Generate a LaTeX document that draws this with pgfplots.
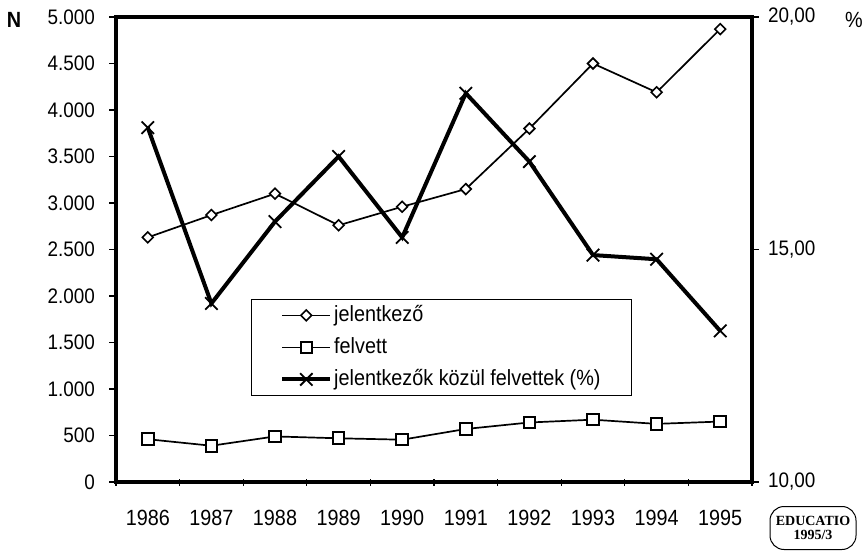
\documentclass[border=0pt]{standalone}
\usepackage{fontspec}
\setmainfont{Liberation Sans}[FakeStretch=0.9]
\newfontfamily\stampfont{Liberation Serif}
\usepackage{pgfplots}
\pgfplotsset{compat=1.18}

\pgfplotstableread{
idx jel fel pct
0 2630 460 17.62
1 2870 390 13.84
2 3100 490 15.60
3 2760 470 17.00
4 2960 455 15.26
5 3150 570 18.36
6 3800 640 16.89
7 4500 670 14.88
8 4190 625 14.79
9 4870 650 13.25
}\datatable

\begin{document}
\begin{tikzpicture}[font=\fontsize{11}{13}\selectfont]
\path[use as bounding box] (-58pt,-34.5pt) rectangle (375pt,241pt);
\pgfplotsset{
  myaxis/.style={
    scale only axis, width=318pt, height=232.5pt,
    at={(0,0)}, anchor=south west,
    xmin=-0.5, xmax=9.5,
    axis line style={line width=2pt},
    tick align=outside,
    major tick length=3.5pt,
    tick style={black, line width=0.6pt},
    /pgf/number format/assume math mode=true,
    clip=false,
  },
  legend image code/.code={
    \draw[mark repeat=2,mark phase=2] plot coordinates {(0cm,0cm) (0.42cm,0cm) (0.84cm,0cm)};
  },
}
\begin{axis}[myaxis,
  ymin=0, ymax=5000,
  tick pos=left,
  xtick={-0.5,0.5,...,9.5},
  xticklabels={1986,1987,1988,1989,1990,1991,1992,1993,1994,1995,{}},
  xticklabel style={xshift=15.9pt, yshift=-7pt},
  xtick style={yshift=1.75pt},
  ytick={0,500,...,5000},
  yticklabels={0,500,{1.000},{1.500},{2.000},{2.500},{3.000},{3.500},{4.000},{4.500},{5.000}},
  yticklabel style={xshift=-3.5pt, font=\fontsize{10.5}{12}\selectfont},
]
\addplot[black, line width=0.85pt, mark=square*, mark options={fill=white, solid, rotate=45, mark size=1.9pt, line width=0.8pt}]
  table[x=idx, y=jel] {\datatable};
\addplot[black, line width=0.85pt, mark=square*, mark options={fill=white, solid, mark size=2.9pt, line width=1pt}]
  table[x=idx, y=fel] {\datatable};
\end{axis}
\begin{axis}[myaxis,
  ymin=10, ymax=20,
  axis x line=none,
  axis y line*=right,
  ytick={10,15,20},
  yticklabels={{10,00},{15,00},{20,00}},
  yticklabel style={xshift=1pt, font=\fontsize{10.5}{12}\selectfont},
  legend style={at={(0.212,0.394)}, anchor=north west, draw=black, line width=0.6pt,
    inner xsep=14.5pt, inner ysep=1.5pt, row sep=3pt,
    nodes={inner xsep=1pt, inner ysep=1.5pt, text height=8pt, text depth=2pt},
    font=\fontsize{11}{13}\selectfont, cells={anchor=west}},
]
\addlegendimage{black, line width=0.85pt, mark=square*, mark options={fill=white, solid, rotate=45, mark size=1.9pt, line width=0.8pt}}
\addlegendentry{jelentkező}
\addlegendimage{black, line width=0.85pt, mark=square*, mark options={fill=white, solid, mark size=2.9pt, line width=1pt}}
\addlegendentry{felvett}
\addplot[black, line width=2pt, mark=x, mark options={solid, mark size=4.4pt, line width=0.9pt}]
  table[x=idx, y=pct] {\datatable};
\addlegendentry{jelentkezők közül felvettek (\%)}
\end{axis}
\node[font=\bfseries\fontsize{11}{13}\selectfont] at (-51pt,231pt) {N};
\node[font=\fontsize{11}{13}\selectfont] at (369pt,231pt) {\%};
\node[draw=black, line width=0.5pt, rounded corners=7pt, minimum width=43pt, minimum height=21.5pt,
  align=center, inner sep=1pt, font=\stampfont\fontsize{7}{7.5}\selectfont] at (348.5pt,-23pt)
  {\textbf{EDUCATIO}\\[-0.5pt]\textbf{1995/3}};
\end{tikzpicture}
\end{document}
